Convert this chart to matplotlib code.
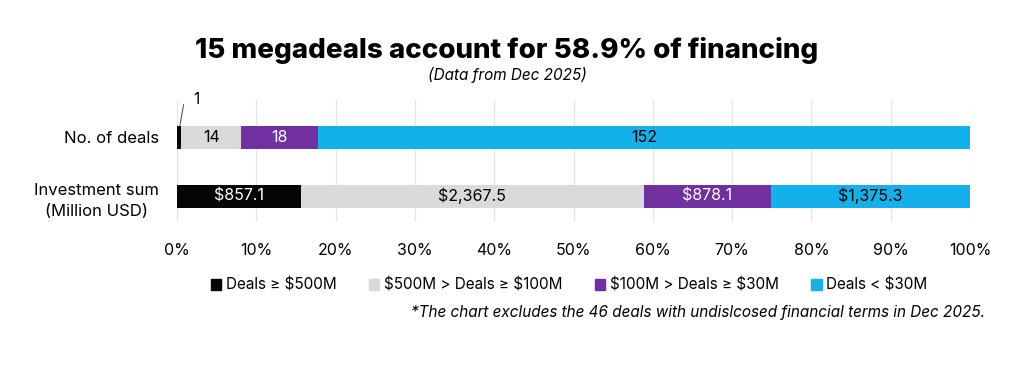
import numpy as np
import matplotlib
matplotlib.use("Agg")
import matplotlib.pyplot as plt
from matplotlib.patches import Patch

plt.rcParams["font.family"] = ["Inter", "DejaVu Sans"]
plt.rcParams["text.parse_math"] = False

rows = ["No. of deals", "Investment sum\n(Million USD)"]
categories = ["Deals ≥ $500M", "$500M > Deals ≥ $100M", "$100M > Deals ≥ $30M", "Deals < $30M"]
deal_counts = [1, 14, 18, 152]
invest_sums = [857.1, 2367.5, 878.1, 1375.3]
colors = ["#050505", "#dadada", "#7030a0", "#14b0ec"]
text_colors = ["white", "black", "white", "black"]

fig = plt.figure(figsize=(10.24, 3.65), dpi=100)
ax = fig.add_axes([177 / 1024, 1 - 222 / 365, 793 / 1024, 122 / 365])

data = [deal_counts, invest_sums]
labels = [[str(v) for v in deal_counts], ["$" + format(v, ",.1f") for v in invest_sums]]
for r, vals in enumerate(data):
    total = sum(vals)
    pct = np.array(vals) / total * 100
    left = 0
    for i, p in enumerate(pct):
        ax.barh(r, p, left=left, height=0.39, color=colors[i], zorder=2)
        if p > 3:
            ax.text(left + p / 2, r, labels[r][i], ha="center", va="center",
                    color=text_colors[i], fontsize=11.5, zorder=3)
        left += p

# small label for the single deal
p0 = deal_counts[0] / sum(deal_counts) * 100
ax.annotate(str(deal_counts[0]), xy=(p0 / 2 + 0.1, -0.2), xytext=(2.4, -0.64),
            ha="center", va="center", fontsize=11,
            arrowprops=dict(arrowstyle="-", color="#555555", lw=0.8,
                            connectionstyle="angle,angleA=0,angleB=80,rad=5",
                            shrinkA=6, shrinkB=0))

ax.set_xlim(0, 100)
ax.set_ylim(1.44, -0.63)
ax.set_xticks(np.arange(0, 101, 10))
ax.set_xticklabels([f"{t}%" for t in range(0, 101, 10)], fontsize=11.5)
ax.set_yticks([0, 1])
ax.set_yticklabels(rows, fontsize=12, multialignment="center", linespacing=1.5)
ax.tick_params(length=0, pad=15, axis="x")
ax.tick_params(length=0, pad=13, axis="y")
ax.grid(axis="x", color="#e4e4e4", lw=0.9, zorder=0)
for s in ax.spines.values():
    s.set_visible(False)

fig.text(507 / 1024, 1 - 50 / 365, "15 megadeals account for 58.9% of financing",
         ha="center", va="center", fontsize=20, fontweight="heavy")
fig.text(507 / 1024, 1 - 75 / 365, "(Data from Dec 2025)", ha="center", va="center",
         fontsize=11, style="italic")

handles = [Patch(color=c) for c in colors]
fig.legend(handles, categories, loc="center", bbox_to_anchor=(569 / 1024, 1 - 285 / 365),
           ncol=4, frameon=False, fontsize=11, handlelength=0.7, handleheight=0.7,
           handletextpad=0.3, columnspacing=2.1)

fig.text(985 / 1024, 1 - 313 / 365,
         "*The chart excludes the 46 deals with undislcosed financial terms in Dec 2025.",
         ha="right", va="center", fontsize=11, style="italic")

fig.savefig("out.png", dpi=100)
